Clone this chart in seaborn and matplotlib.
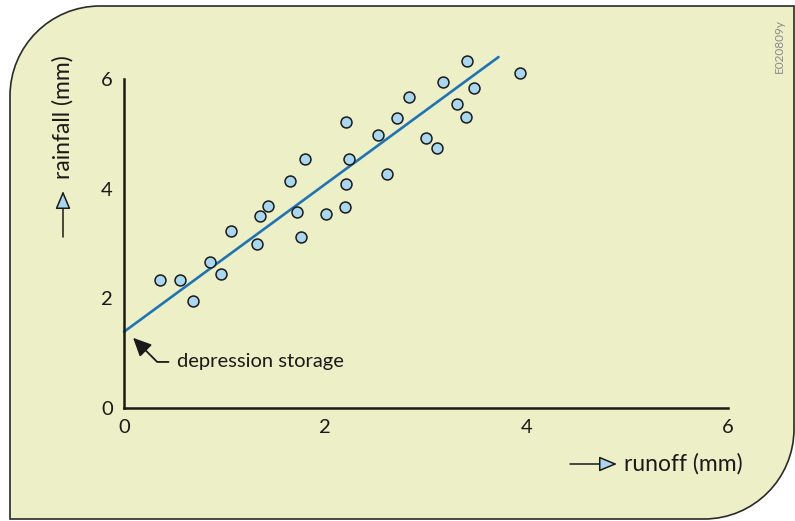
import matplotlib
matplotlib.use("Agg")
import matplotlib.pyplot as plt
import seaborn as sns
from matplotlib.path import Path
from matplotlib.patches import PathPatch
from matplotlib.transforms import IdentityTransform

runoff = [0.36, 0.56, 0.69, 0.85, 0.96, 1.06, 1.32, 1.35, 1.43, 1.65,
          1.72, 1.76, 1.80, 2.01, 2.21, 2.24, 2.21, 2.20, 2.52, 2.61,
          2.71, 2.83, 3.00, 3.11, 3.17, 3.31, 3.40, 3.41, 3.48, 3.93]
rainfall = [2.34, 2.33, 1.95, 2.67, 2.44, 3.22, 2.99, 3.51, 3.69, 4.14,
            3.57, 3.11, 4.54, 3.54, 5.21, 4.55, 4.09, 3.67, 4.98, 4.26,
            5.28, 5.67, 4.92, 4.75, 5.95, 5.54, 5.31, 6.33, 5.83, 6.11]

# Regressionsgerade
fit_runoff = [0.0, 3.72]
fit_rainfall = [1.39, 6.40]

ticks = [0, 2, 4, 6]
tick_labels = ["0", "2", "4", "6"]

sns.set_style("white")
plt.rcParams["font.family"] = ["Lato", "DejaVu Sans"]

fig = plt.figure(figsize=(7.95, 5.21), dpi=100)
fig.patch.set_facecolor("white")

# Hintergrundfläche mit zwei abgerundeten Ecken (Pixelkoordinaten)
L, R, T, B, r = 10, 794, 515, 2, 90
k = 0.5523 * r
verts = [(L, B), (L, T - r),
         (L, T - r + k), (L + r - k, T), (L + r, T),
         (R, T), (R, B + r),
         (R, B + r - k), (R - r + k, B), (R - r, B),
         (L, B), (L, B)]
codes = [Path.MOVETO, Path.LINETO,
         Path.CURVE4, Path.CURVE4, Path.CURVE4,
         Path.LINETO, Path.LINETO,
         Path.CURVE4, Path.CURVE4, Path.CURVE4,
         Path.LINETO, Path.CLOSEPOLY]
panel = PathPatch(Path(verts, codes), facecolor="#edefc6", edgecolor="#2a2a2a",
                  lw=1.2, transform=IdentityTransform(), zorder=-5)
fig.add_artist(panel)

ax = fig.add_axes([124 / 795, 113 / 521, 604 / 795, 329 / 521])
ax.patch.set_alpha(0)

sns.lineplot(x=fit_runoff, y=fit_rainfall, color="#1f74b6", lw=1.9,
             clip_on=False, ax=ax, zorder=2)
sns.scatterplot(x=runoff, y=rainfall, color="#a9d7ef", edgecolor="#1a1a1a",
                linewidth=1.1, s=62, clip_on=False, ax=ax, zorder=3)

ax.set_xlim(0, 6)
ax.set_ylim(0, 6)
ax.set_xticks(ticks)
ax.set_xticklabels(tick_labels)
ax.set_yticks(ticks)
ax.set_yticklabels(tick_labels)
ax.tick_params(direction="in", length=5, width=1, labelsize=14.5, pad=8,
               color="#1a1a1a", labelcolor="#1a1a1a")
sns.despine(ax=ax)
for side in ["left", "bottom"]:
    ax.spines[side].set_linewidth(1.8)
    ax.spines[side].set_color("#1a1a1a")

# Achsenbeschriftungen mit Pfeilen
axis_arrow = dict(arrowstyle="-|>,head_length=1.0,head_width=0.42",
                  fc="#a9d7ef", ec="#1a1a1a", lw=1.1, mutation_scale=11,
                  shrinkA=0, shrinkB=0)
fig.text(63 / 795, (521 - 117) / 521, "rainfall (mm)", rotation=90,
         ha="center", va="center", fontsize=16.5, color="#1a1a1a")
ax.annotate("", xy=(63, 330), xytext=(63, 284), xycoords="figure pixels",
            arrowprops=axis_arrow)
fig.text(624 / 795, 57 / 521, "runoff (mm)", ha="left", va="center",
         fontsize=16.5, color="#1a1a1a")
ax.annotate("", xy=(617, 57), xytext=(570, 57), xycoords="figure pixels",
            arrowprops=axis_arrow)

ax.annotate("depression storage", xy=(0.09, 1.28), xytext=(0.53, 0.84),
            ha="left", va="center", fontsize=14.5, color="#1a1a1a",
            arrowprops=dict(arrowstyle="-|>,head_length=0.85,head_width=0.4",
                            color="#1a1a1a", lw=1.3, relpos=(0, 0.5),
                            mutation_scale=13,
                            connectionstyle="angle,angleA=0,angleB=-45,rad=0",
                            shrinkA=4, shrinkB=0))

fig.text(779 / 795, (521 - 46) / 521, "E020809y", rotation=90, ha="center",
         va="center", fontsize=8.5, color="#8a8a8a")

fig.savefig("out.png", dpi=100)
